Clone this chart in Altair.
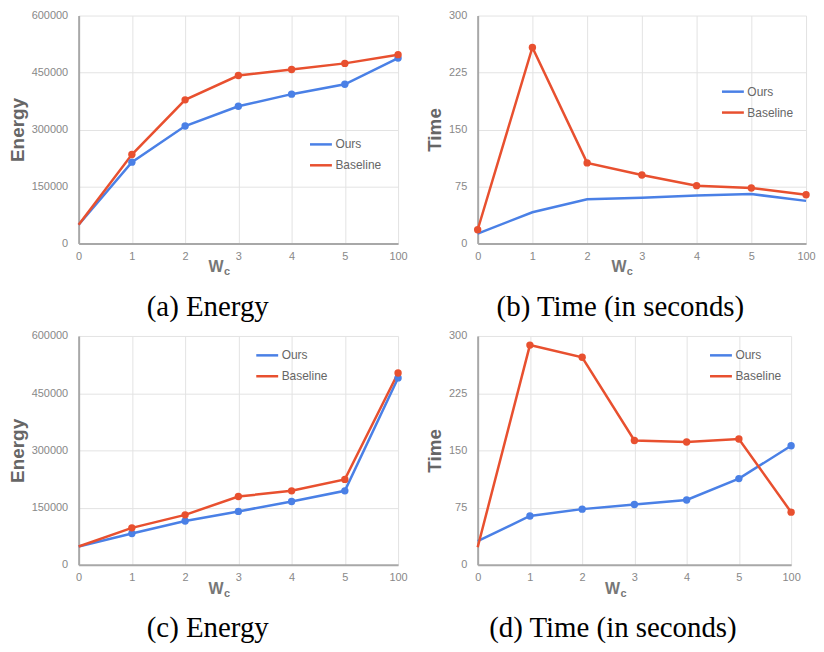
import altair as alt
import pandas as pd

W_LABELS = ["0", "1", "2", "3", "4", "5", "100"]
SERIES = ["Ours", "Baseline"]

A_OURS = [49000, 214000, 309000, 361000, 393000, 419000, 488000]
A_BASE = [49000, 234000, 378000, 442000, 458000, 474000, 497000]
B_OURS = [13, 41, 58, 60, 63, 65, 56]
B_BASE = [18, 258, 106, 90, 76, 73, 64]
C_OURS = [48000, 82000, 115000, 140000, 166000, 194000, 490000]
C_BASE = [48000, 97000, 131000, 179000, 194000, 224000, 503000]
D_OURS = [31, 64, 73, 79, 85, 113, 156]
D_BASE = [23, 288, 272, 163, 161, 165, 69]

ENERGY_TICKS = [0, 150000, 300000, 450000, 600000]
TIME_TICKS = [0, 75, 150, 225, 300]

CAPTIONS = ["(a) Energy", "(b) Time (in seconds)", "(c) Energy", "(d) Time (in seconds)"]

BLUE = "#4a80e6"
RED = "#e8502f"
SANS = "Liberation Sans"


def make_df(ours, base):
    rows = []
    for s, vals in (("Ours", ours), ("Baseline", base)):
        for i, (w, v) in enumerate(zip(W_LABELS, vals)):
            rows.append({"w": w, "i": i, "s": s, "v": v})
    return pd.DataFrame(rows)


def panel(ours, base, ticks, ytitle, caption, w, h, legx, legy, marker_filter):
    df = make_df(ours, base)
    base_ch = alt.Chart(df)
    x = alt.X("w:O", scale=alt.Scale(type="point", domain=W_LABELS, padding=0),
              axis=alt.Axis(title=None, labelAngle=0, grid=True, labelPadding=7))
    y = alt.Y("v:Q", scale=alt.Scale(domain=[ticks[0], ticks[-1]], nice=False),
              axis=alt.Axis(values=ticks, format="d", title=ytitle, titlePadding=4,
                            labelPadding=11))
    lines = base_ch.mark_line(strokeWidth=2.5).encode(
        x=x, y=y,
        color=alt.Color("s:N", scale=alt.Scale(domain=SERIES, range=[BLUE, RED]),
                        legend=alt.Legend(title=None, orient="none", legendX=legx, legendY=legy,
                                          symbolType="stroke", symbolSize=484,
                                          symbolStrokeWidth=2.5, labelFontSize=12,
                                          labelColor="#666", labelFont=SANS,
                                          rowPadding=2, labelOffset=2)),
        order=alt.Order("i:Q"),
    )
    pts = base_ch.mark_circle(size=55, opacity=1).encode(
        x=x, y=y,
        color=alt.Color("s:N", scale=alt.Scale(domain=SERIES, range=[BLUE, RED]), legend=None),
    ).transform_filter(marker_filter)
    wt = alt.Chart(pd.DataFrame({"t": ["W"]})).mark_text(
        font=SANS, fontSize=16, fontWeight="bold", color="#777", align="center", baseline="middle"
    ).encode(x=alt.value(0.43 * w), y=alt.value(h + 24), text="t:N")
    ct = alt.Chart(pd.DataFrame({"t": ["c"]})).mark_text(
        font=SANS, fontSize=11, fontWeight="bold", color="#777", align="left", baseline="middle"
    ).encode(x=alt.value(0.43 * w + 8), y=alt.value(h + 29), text="t:N")
    return alt.layer(lines, pts, wt, ct).resolve_legend(color="independent").properties(
        width=w, height=h,
        title=alt.TitleParams(caption, orient="bottom", anchor="middle", frame="bounds",
                              font="Liberation Serif", fontSize=29, fontWeight="normal",
                              color="black", offset=16),
    )


pa = panel(A_OURS, A_BASE, ENERGY_TICKS, "Energy", CAPTIONS[0], 321, 229, 231, 117,
           "datum.w != '0'")
pb = panel(B_OURS, B_BASE, TIME_TICKS, "Time", CAPTIONS[1], 330, 229, 244, 64,
           "datum.s == 'Baseline'")
pc = panel(C_OURS, C_BASE, ENERGY_TICKS, "Energy", CAPTIONS[2], 321, 230, 177, 7,
           "datum.w != '0'")
pd_ = panel(D_OURS, D_BASE, TIME_TICKS, "Time", CAPTIONS[3], 315, 230, 232, 7,
            "datum.w != '0'")

chart = alt.vconcat(
    alt.hconcat(pa, pb, spacing=17),
    alt.hconcat(pc, pd_, spacing=17),
    spacing=8,
).properties(padding=0).configure_view(stroke=None).configure_axis(
    labelFont=SANS, labelFontSize=11, labelColor="#888",
    titleFont=SANS, titleFontSize=19, titleFontWeight="bold", titleColor="#666",
    gridColor="#e3e3e3", gridWidth=1, domainColor="#a8a8a8", domainWidth=2,
    tickSize=0,
)

chart.save("out.html", embed_options={"renderer": "svg", "actions": False})
